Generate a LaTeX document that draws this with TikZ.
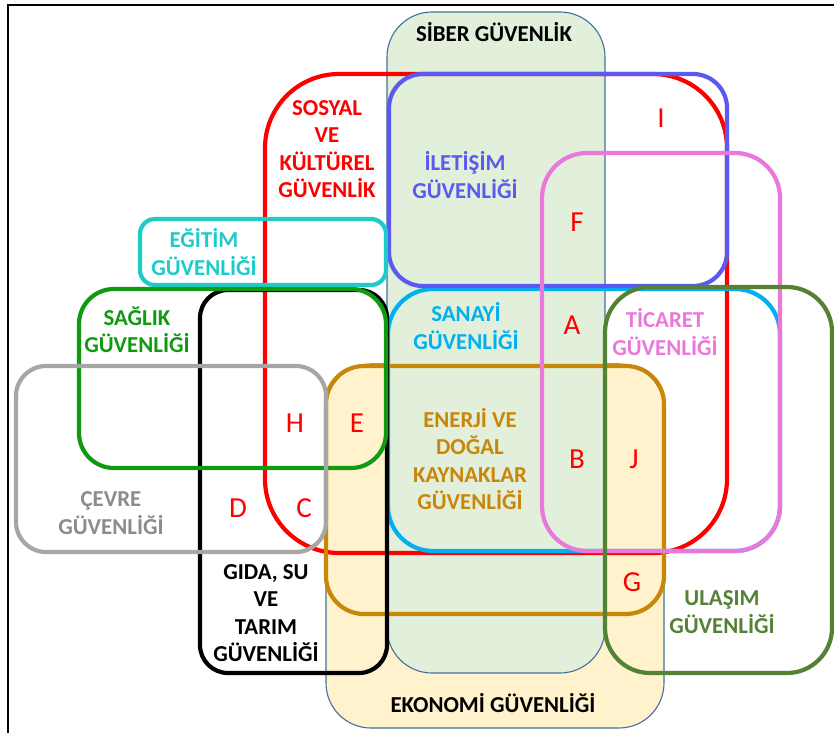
\documentclass[tikz,border=0pt]{standalone}
\usepackage{fontspec}
\setmainfont{Carlito}
\definecolor{cRed}{HTML}{FF0000}
\definecolor{cBlue}{HTML}{5A5AF0}
\definecolor{cPink}{HTML}{EA78DC}
\definecolor{cCyan}{HTML}{00B0F0}
\definecolor{cOrange}{HTML}{C9870A}
\definecolor{cOlive}{HTML}{548235}
\definecolor{cTurq}{HTML}{1ECACA}
\definecolor{cGreen}{HTML}{109A10}
\definecolor{cGray}{HTML}{A6A6A6}
\definecolor{cGrayText}{HTML}{8C8C8C}
\definecolor{cYellowFill}{HTML}{FFF2CC}
\definecolor{cGreenFill}{HTML}{E2EFDA}
\definecolor{cThin}{HTML}{41719C}
\tikzset{
  setbox/.style={line width=4.2pt},
  thinbox/.style={draw=cThin, line width=1.1pt},
  lbl/.style={align=center, inner sep=0pt, font=\bfseries\fontsize{22.8}{27.4}\selectfont},
  reg/.style={inner sep=0pt, text=cRed, font=\fontsize{29}{30}\selectfont}
}
\begin{document}
\begin{tikzpicture}[x=1pt,y=-1pt]
\useasboundingbox (0,0) rectangle (834,733);
\fill[white] (0,0) rectangle (834,733);
\draw[black, line width=1.2pt] (8,733) -- (8,5) -- (834,5);
% filled sets
\draw[thinbox, fill=cYellowFill, rounded corners=45] (326,364) rectangle (664,728);
\draw[thinbox, fill=cGreenFill, rounded corners=45] (387,12) rectangle (605,673);
% outlined sets
\draw[setbox, cRed, rounded corners=74] (265,74) rectangle (727,553);
\draw[setbox, cCyan, rounded corners=45] (388,289) rectangle (780,551);
\draw[setbox, cBlue, rounded corners=34] (389,74) rectangle (727,286);
\draw[setbox, cOrange, rounded corners=38] (326,366) rectangle (664,614);
\draw[setbox, cPink, rounded corners=45] (542,153) rectangle (780,551);
\draw[setbox, cOlive, rounded corners=45] (605,287) rectangle (832,673);
\draw[setbox, cTurq, rounded corners=15] (140,219) rectangle (386,285);
\draw[setbox, black, rounded corners=28] (200,290) rectangle (387,673);
\draw[setbox, cGreen, rounded corners=35] (79,289) rectangle (386,468);
\draw[setbox, cGray, rounded corners=30] (16,366) rectangle (326,552);
% labels
\node[lbl, text=black] (siber) at (494,32) {SİBER GÜVENLİK};
\node[lbl, text=cRed] (sosyal) at (327,149) {SOSYAL\\VE\\KÜLTÜREL\\GÜVENLİK};
\node[lbl, text=cBlue] (iletisim) at (465,175) {İLETİŞİM\\GÜVENLİĞİ};
\node[lbl, text=cTurq] (egitim) at (204,252) {EĞİTİM\\GÜVENLİĞİ};
\node[lbl, text=cGreen] (saglik) at (137,330) {SAĞLIK\\GÜVENLİĞİ};
\node[lbl, text=cCyan] (sanayi) at (466,326) {SANAYİ\\GÜVENLİĞİ};
\node[lbl, text=cPink] (ticaret) at (665,332) {TİCARET\\GÜVENLİĞİ};
\node[lbl, text=cOrange] (enerji) at (470,459) {ENERJİ VE\\DOĞAL\\KAYNAKLAR\\GÜVENLİĞİ};
\node[lbl, text=cGrayText] (cevre) at (111,513) {ÇEVRE\\GÜVENLİĞİ};
\node[lbl, text=black] (gida) at (266,613) {GIDA, SU\\VE\\TARIM\\GÜVENLİĞİ};
\node[lbl, text=cOlive] (ulasim) at (722,612) {ULAŞIM\\GÜVENLİĞİ};
\node[lbl, text=black] (ekonomi) at (493,703) {EKONOMİ GÜVENLİĞİ};
% region letters
\node[reg] (rI) at (661,118) {I};
\node[reg] (rF) at (577,222) {F};
\node[reg] (rA) at (572,325) {A};
\node[reg] (rB) at (577,459) {B};
\node[reg] (rJ) at (634,459) {J};
\node[reg] (rH) at (295,423) {H};
\node[reg] (rE) at (357,423) {E};
\node[reg] (rD) at (238,508) {D};
\node[reg] (rC) at (304,508) {C};
\node[reg] (rG) at (632,582) {G};
\end{tikzpicture}
\end{document}
